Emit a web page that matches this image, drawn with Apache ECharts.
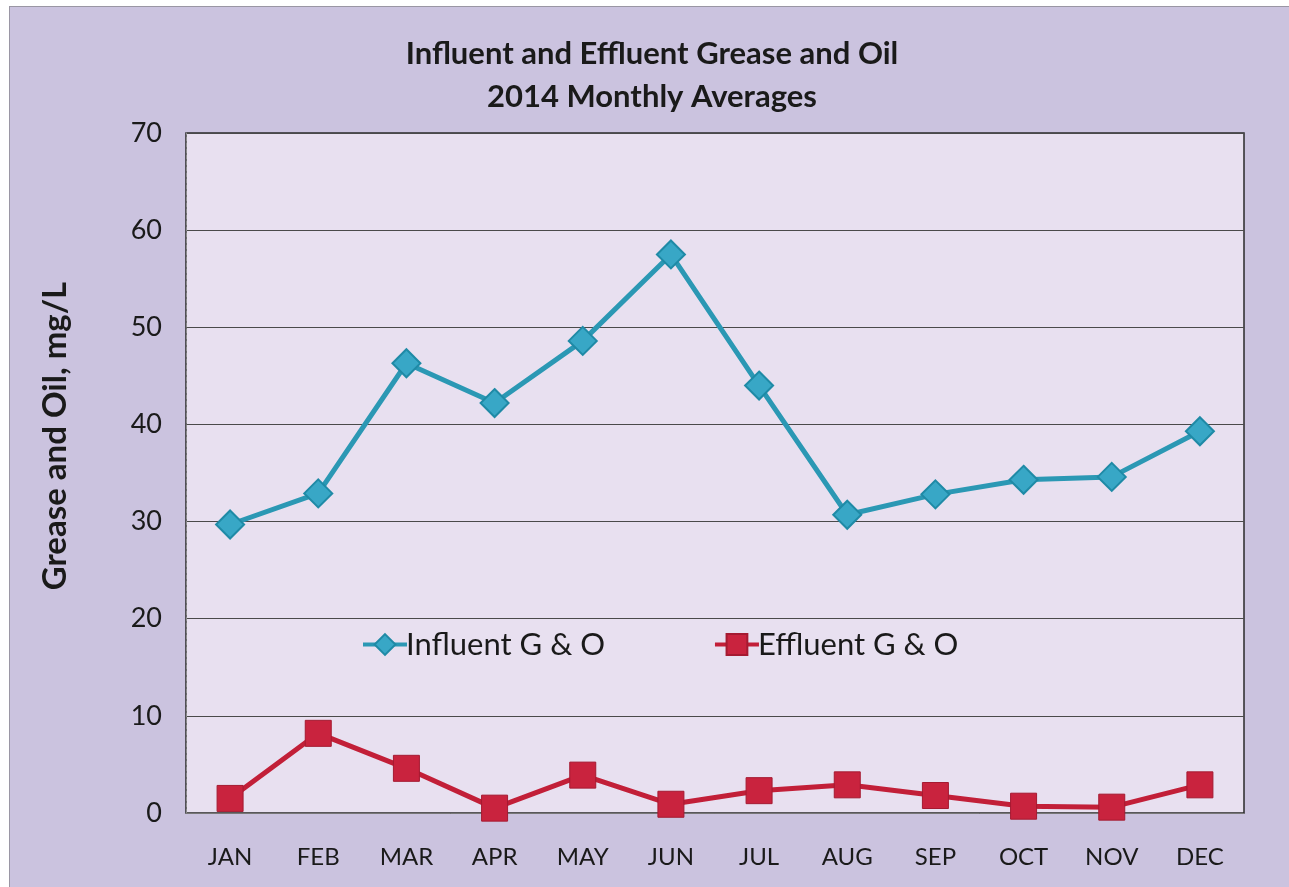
<!DOCTYPE html>
<html>
<head>
<meta charset="utf-8">
<script src="https://cdn.jsdelivr.net/npm/echarts@6/dist/echarts.min.js"></script>
<style>
  body { margin: 0; background: #ffffff; }
  #frame {
    position: absolute; left: 9px; top: 6px;
    width: 1280px; height: 881px;
    border-left: 1px solid #9a96a4; border-top: 1px solid #9a96a4;
    background: #cbc3df;
  }
  #chart { width: 1280px; height: 881px; }
</style>
</head>
<body>
<div id="frame"><div id="chart"></div></div>
<script>
const months = ['JAN', 'FEB', 'MAR', 'APR', 'MAY', 'JUN', 'JUL', 'AUG', 'SEP', 'OCT', 'NOV', 'DEC'];
const influent = [29.7, 32.9, 46.3, 42.2, 48.6, 57.5, 44.0, 30.7, 32.8, 34.3, 34.6, 39.3];
const effluent = [1.5, 8.2, 4.6, 0.5, 3.9, 0.9, 2.3, 2.9, 1.8, 0.7, 0.6, 2.9];
const yTicks = [0, 10, 20, 30, 40, 50, 60, 70];

const FONT = 'Lato, "Open Sans", sans-serif';
const chart = echarts.init(document.getElementById('chart'));

const option = {
  backgroundColor: 'transparent',
  title: {
    text: 'Influent and Effluent Grease and Oil\n2014 Monthly Averages',
    left: 637, top: 20, textAlign: 'center',
    textStyle: { fontFamily: FONT, fontSize: 31, fontWeight: 'bold', color: '#1a1a1a', lineHeight: 43 }
  },
  legend: {
    top: 617, left: 346, itemGap: 108,
    itemWidth: 44, itemHeight: 26,
    lineStyle: { width: 4 },
    textStyle: { fontFamily: FONT, fontSize: 31, color: '#1a1a1a', padding: [0, 0, 0, -6] },
    data: ['Influent G & O', 'Effluent G & O']
  },
  grid: {
    left: 176, top: 126, right: 46, bottom: 75,
    show: true, backgroundColor: '#e8e0f0', borderColor: '#2a2a2a', borderWidth: 1.5
  },
  xAxis: {
    type: 'category', data: months, boundaryGap: true,
    axisLine: { lineStyle: { color: '#777777', width: 1 } },
    axisTick: { show: false },
    axisLabel: { fontFamily: FONT, fontSize: 24, color: '#1a1a1a', margin: 32 }
  },
  yAxis: {
    type: 'value', min: yTicks[0], max: yTicks[yTicks.length - 1], interval: 10,
    name: 'Grease and Oil, mg/L', nameLocation: 'middle', nameGap: 114, nameRotate: 90,
    nameTextStyle: { fontFamily: FONT, fontSize: 33, fontWeight: 'bold', color: '#1a1a1a', padding: [0, 0, 0, 74] },
    axisLine: { show: true, lineStyle: { color: '#8a8a8a', type: 'dashed', width: 1 } },
    axisTick: { show: false },
    axisLabel: { fontFamily: FONT, fontSize: 27, color: '#1a1a1a', margin: 24 },
    splitLine: { lineStyle: { color: '#4a4a4a', width: 1.2 } }
  },
  series: [
    {
      name: 'Influent G & O', type: 'line', data: influent,
      symbol: 'diamond', symbolSize: 28,
      lineStyle: { color: '#2b98b4', width: 5 },
      itemStyle: { color: '#38a7c6', borderColor: '#1f8aa6', borderWidth: 2 }
    },
    {
      name: 'Effluent G & O', type: 'line', data: effluent,
      symbol: 'rect', symbolSize: 26,
      lineStyle: { color: '#c21f38', width: 5 },
      itemStyle: { color: '#c9233e', borderColor: '#a51a31', borderWidth: 1 }
    }
  ]
};
chart.setOption(option);
</script>
</body>
</html>
